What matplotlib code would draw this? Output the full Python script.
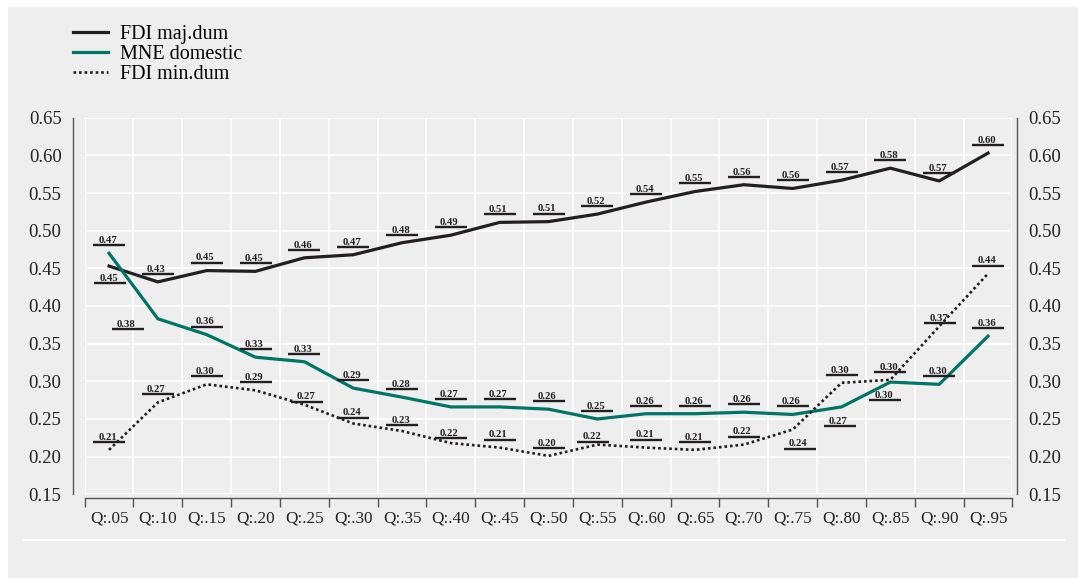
import matplotlib
matplotlib.use("Agg")
from matplotlib import pyplot as plt
from matplotlib.patches import Rectangle
from matplotlib.lines import Line2D
from matplotlib.transforms import offset_copy

# Data
quantiles = ["Q:.05", "Q:.10", "Q:.15", "Q:.20", "Q:.25", "Q:.30", "Q:.35",
             "Q:.40", "Q:.45", "Q:.50", "Q:.55", "Q:.60", "Q:.65", "Q:.70",
             "Q:.75", "Q:.80", "Q:.85", "Q:.90", "Q:.95"]
fdi_maj = [0.453, 0.432, 0.447, 0.446, 0.464, 0.468, 0.484, 0.494, 0.511, 0.512,
           0.522, 0.538, 0.552, 0.561, 0.556, 0.567, 0.583, 0.566, 0.603]
mne_domestic = [0.470, 0.383, 0.362, 0.332, 0.326, 0.291, 0.279, 0.266, 0.266, 0.263,
                0.250, 0.257, 0.257, 0.259, 0.256, 0.266, 0.299, 0.296, 0.360]
fdi_min = [0.209, 0.272, 0.296, 0.288, 0.269, 0.244, 0.234, 0.218, 0.212, 0.201,
           0.216, 0.212, 0.209, 0.216, 0.236, 0.298, 0.302, 0.373, 0.443]

# label placement (pixels, relative to the point)
maj_offsets = [(1, -17)] + [(0, 8)] * 18
mne_offsets = [(0, 8), (-30, -10)] + [(0, 8)] * 13 + [(-2, -19), (-5, -18), (0, 8), (0, 8)]
min_offsets = [(0, 8), (0, 8), (0, 8), (0, 8), (3, 3), (0, 6), (0, 6), (0, 5),
               (0, 8), (0, 8), (-4, 3), (0, 8), (0, 8), (0, 8), (7, -19),
               (0, 8), (0, 8), (1, 3), (0, 8)]

BG = "#eeeeee"
DARK = "#231f20"
GREEN = "#007566"

plt.rcParams["font.family"] = ["Liberation Serif", "DejaVu Serif"]

fig = plt.figure(figsize=(10.78, 5.78), dpi=100)
fig.patch.set_facecolor("white")
fig.patches.append(Rectangle((8 / 1078, 0), 1 - 8 / 1078, 571 / 578,
                             transform=fig.transFigure, facecolor=BG,
                             edgecolor="none", zorder=-10))
fig.add_artist(Line2D([23 / 1078, 1065 / 1078], [38 / 578, 38 / 578],
                      transform=fig.transFigure, color="white", lw=1.6))

ax = fig.add_axes([0.0785, 0.1448, 0.8607, 0.6516])
ax.set_facecolor(BG)
x = list(range(len(quantiles)))

ax.plot(x, fdi_maj, color=DARK, lw=2.3, label="FDI maj.dum", zorder=3)
ax.plot(x, mne_domestic, color=GREEN, lw=2.3, label="MNE domestic", zorder=3)
ax.plot(x, fdi_min, color=DARK, lw=1.9, ls=(0, (1, 1.1)), label="FDI min.dum", zorder=3)


def add_labels(values, offsets):
    for i, v in enumerate(values):
        dx, dy = offsets[i]
        tr = offset_copy(ax.transData, fig=fig, x=dx, y=dy, units="dots")
        ax.plot([i], [v], marker="_", markersize=23, mew=1.7, color=DARK,
                transform=tr, zorder=4)
        tr_txt = offset_copy(ax.transData, fig=fig, x=dx - 1.5, y=dy + 2.2, units="dots")
        ax.text(i, v, f"{v:.2f}", transform=tr_txt, ha="center", va="baseline",
                fontsize=7.7, fontweight="bold", color=DARK, zorder=4)


add_labels(fdi_maj, maj_offsets)
add_labels(mne_domestic, mne_offsets)
add_labels(fdi_min, min_offsets)

ax.set_xlim(-0.5, len(quantiles) - 0.5)
ax.set_ylim(0.15, 0.65)
ax.set_xticks(x)
ax.set_xticklabels(quantiles)
ax.set_xticks([i - 0.5 for i in range(len(quantiles) + 1)], minor=True)
yt = [0.15 + 0.05 * k for k in range(11)]
ax.set_yticks(yt)
ax.set_yticklabels([f"{t:.2f}" for t in yt])
ax.tick_params(axis="x", which="major", length=0, pad=9, labelsize=12.3,
               labelcolor="#222222")
ax.tick_params(axis="x", which="minor", length=6.5, width=1, color="#555555",
               direction="out")
ax.tick_params(axis="y", which="major", length=0, pad=8, labelsize=13.5,
               labelleft=True, labelright=True, labelcolor="#222222")

ax.grid(True, axis="y", which="major", color="white", lw=1.1)
ax.grid(True, axis="x", which="minor", color="white", lw=1.1)
ax.set_axisbelow(True)

ax.spines["top"].set_visible(False)
for side, off in (("left", 8.6), ("right", 3.6), ("bottom", 3)):
    ax.spines[side].set_position(("outward", off))
    ax.spines[side].set_color("#555555")
    ax.spines[side].set_linewidth(1)

leg = fig.legend(loc="upper left", bbox_to_anchor=(73 / 1078, 1 - 25 / 578),
                 frameon=False, fontsize=14.5, handlelength=1.75,
                 handletextpad=0.6, labelspacing=0.05, borderpad=0,
                 borderaxespad=0)

fig.savefig("out.png", dpi=100, facecolor=fig.get_facecolor())
